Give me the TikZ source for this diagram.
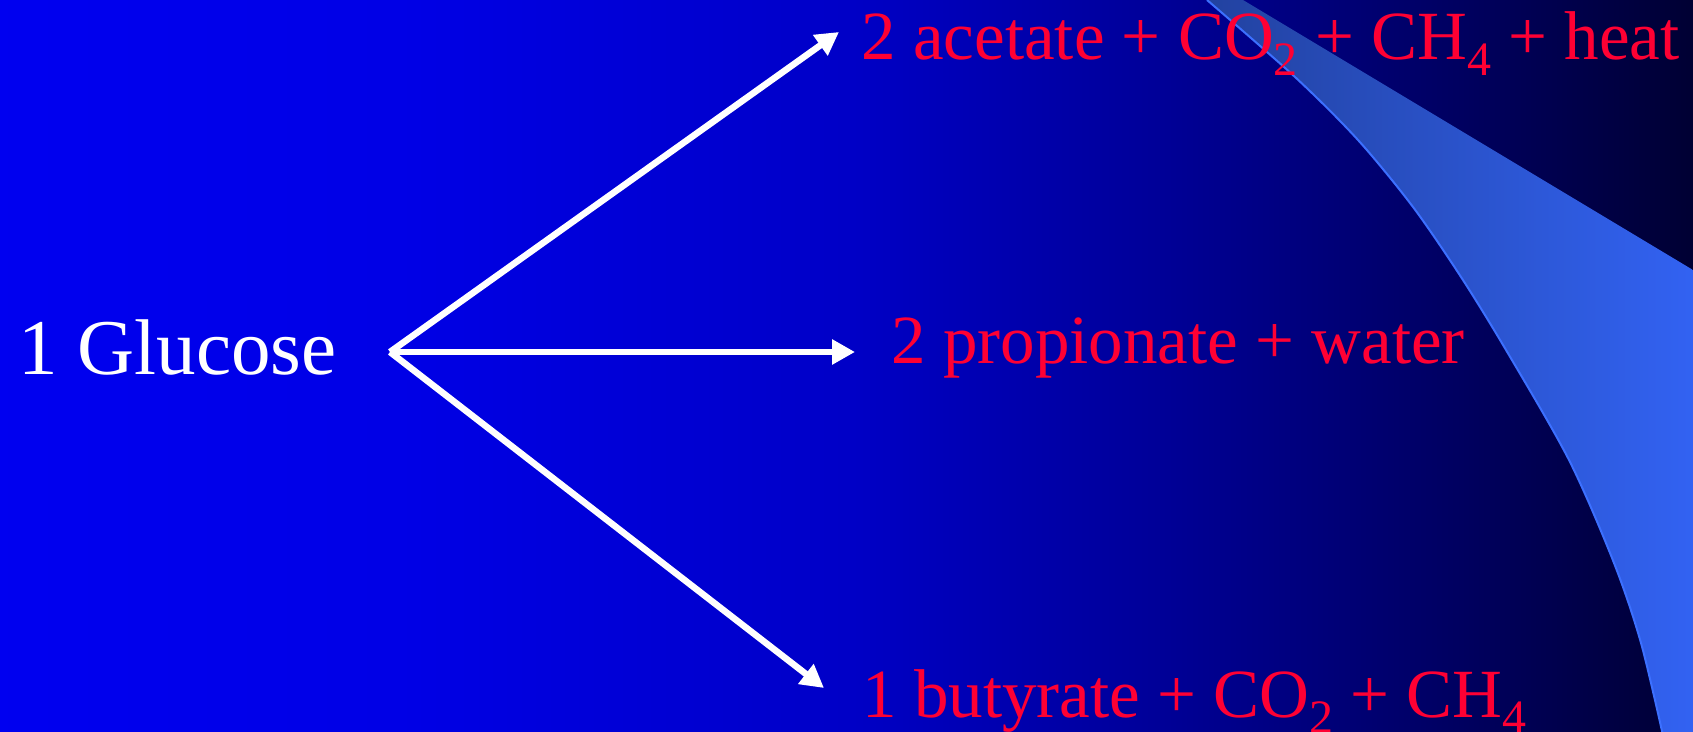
\documentclass[tikz,border=0pt]{standalone}
\usepackage{fontspec}
\setmainfont{Liberation Serif}
\usetikzlibrary{arrows.meta}
\definecolor{txtred}{RGB}{255,0,51}
\definecolor{edgeblue}{RGB}{60,112,255}
\definecolor{wedgeL}{RGB}{34,66,160}
\definecolor{wedgeR}{RGB}{50,98,242}
\pgfdeclarehorizontalshading{bgshade}{100bp}{rgb(0bp)=(0,0,0.94); rgb(25bp)=(0,0,0.94); rgb(37bp)=(0,0,0.9); rgb(50bp)=(0,0,0.78); rgb(59bp)=(0,0,0.6); rgb(68bp)=(0,0,0.38); rgb(75bp)=(0,0,0.2); rgb(100bp)=(0,0,0.2)}
\newcommand\chemsub[1]{\raisebox{-8pt}{\fontsize{24}{24}\selectfont #1}}
\begin{document}
\begin{tikzpicture}[x=0.5pt,y=-0.5pt,
  lbl/.style={anchor=base west, inner sep=0pt, text=txtred, font=\fontsize{34.5}{36}\selectfont},
  arr/.style={white, line width=3.25pt, -{Triangle[length=11.5pt,width=12pt]}}]
\useasboundingbox (0,0) rectangle (1693,732);
\shade[shading=bgshade] (0,0) rectangle (1693,732);
\begin{scope}
\clip (0,0) rectangle (1693,732);
\shade[left color=wedgeL, right color=wedgeR]
  plot[smooth] coordinates {(1207,0) (1295,77) (1358,140) (1413,207) (1461,277) (1506,350) (1569,460) (1614,563) (1641,643) (1664,740)}
  -- (1693,740) -- (1693,270) -- (1243,0) -- cycle;
\draw[edgeblue, line width=1pt]
  plot[smooth] coordinates {(1207,0) (1295,77) (1358,140) (1413,207) (1461,277) (1506,350) (1569,460) (1614,563) (1641,643) (1664,740)};
\end{scope}
\node[anchor=base west, inner sep=0pt, text=white, font=\fontsize{39.5}{41}\selectfont] (glucose) at (18,375) {1 Glucose};
\node[lbl] (acetate) at (861,60) {2 acetate + CO\chemsub{2} + CH\chemsub{4} + heat};
\node[lbl] (propionate) at (891,364) {2 propionate + water};
\node[lbl] (butyrate) at (862,717) {1 butyrate + CO\chemsub{2} + CH\chemsub{4}};
\coordinate (src) at (390,352);
\coordinate (tipA) at (839,32);
\coordinate (tipP) at (855,352);
\coordinate (tipB) at (824,688);
\draw[arr] (src) -- (tipA);
\draw[arr] (src) -- (tipP);
\draw[arr] (src) -- (tipB);
\end{tikzpicture}
\end{document}
